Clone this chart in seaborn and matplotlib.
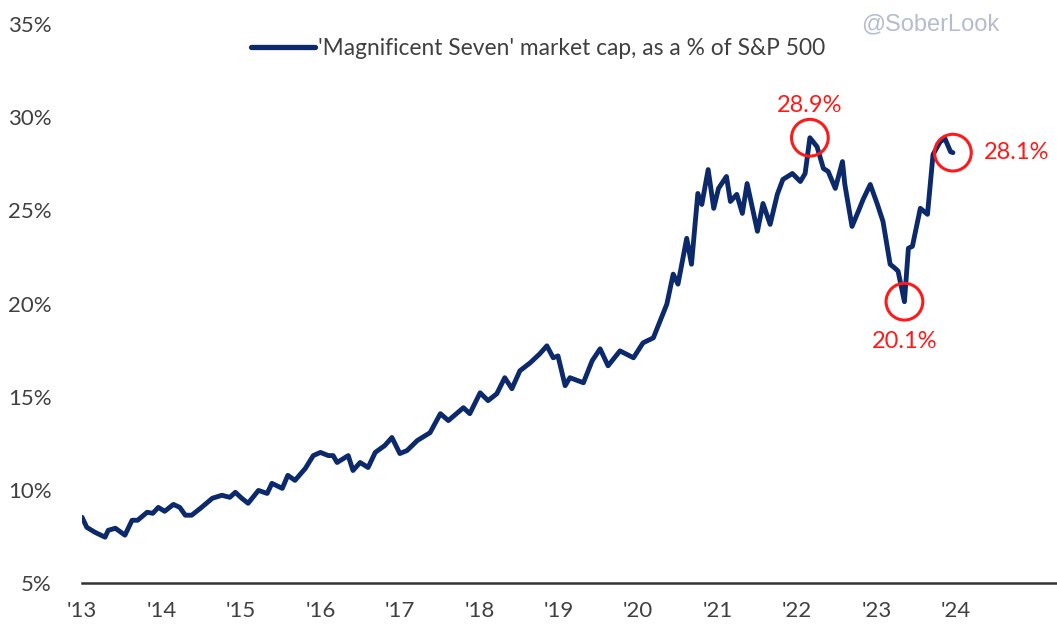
import matplotlib.pyplot as plt
import pandas as pd
import seaborn as sns

# Decimal year and share of S&P 500 market cap (%)
years = [
    2013.00, 2013.06, 2013.16, 2013.29, 2013.33, 2013.42, 2013.54, 2013.63, 2013.70, 2013.82,
    2013.89, 2013.96, 2014.04, 2014.15, 2014.23, 2014.30, 2014.38, 2014.49, 2014.64, 2014.76,
    2014.86, 2014.93, 2015.01, 2015.09, 2015.22, 2015.33, 2015.39, 2015.52, 2015.59, 2015.68,
    2015.81, 2015.91, 2016.00, 2016.10, 2016.16, 2016.21, 2016.35, 2016.41, 2016.50, 2016.60,
    2016.69, 2016.81, 2016.90, 2017.00, 2017.09, 2017.22, 2017.38, 2017.51, 2017.61, 2017.80,
    2017.88, 2018.01, 2018.11, 2018.22, 2018.32, 2018.41, 2018.51, 2018.64, 2018.76, 2018.85,
    2018.93, 2018.99, 2019.08, 2019.14, 2019.31, 2019.42, 2019.52, 2019.62, 2019.77, 2019.94,
    2020.06, 2020.19, 2020.36, 2020.44, 2020.50, 2020.61, 2020.67, 2020.75, 2020.80, 2020.88,
    2020.95, 2021.01, 2021.11, 2021.16, 2021.24, 2021.31, 2021.37, 2021.50, 2021.57, 2021.66,
    2021.75, 2021.82, 2021.94, 2022.04, 2022.10, 2022.16, 2022.25, 2022.33, 2022.39, 2022.48,
    2022.57, 2022.60, 2022.69, 2022.77, 2022.83, 2022.92, 2023.01, 2023.08, 2023.17, 2023.23,
    2023.27, 2023.35, 2023.40, 2023.45, 2023.55, 2023.64, 2023.71, 2023.80, 2023.86, 2023.93,
    2023.96,
]
share = [
    8.53, 7.99, 7.73, 7.46, 7.83, 7.94, 7.57, 8.37, 8.37, 8.80,
    8.74, 9.06, 8.85, 9.22, 9.06, 8.64, 8.64, 9.01, 9.55, 9.71,
    9.60, 9.87, 9.55, 9.28, 9.97, 9.81, 10.35, 10.08, 10.78, 10.51,
    11.15, 11.84, 12.01, 11.84, 11.84, 11.47, 11.84, 11.04, 11.47, 11.20,
    12.01, 12.38, 12.81, 11.95, 12.11, 12.65, 13.07, 14.09, 13.72, 14.41,
    14.09, 15.21, 14.79, 15.16, 16.02, 15.43, 16.39, 16.82, 17.30, 17.73,
    17.09, 17.19, 15.59, 16.02, 15.75, 16.93, 17.57, 16.66, 17.46, 17.09,
    17.89, 18.16, 19.97, 21.58, 21.04, 23.50, 22.11, 25.91, 25.32, 27.19,
    25.11, 26.18, 26.82, 25.48, 25.86, 24.84, 26.44, 23.88, 25.37, 24.25,
    25.86, 26.66, 26.98, 26.55, 26.98, 28.90, 28.42, 27.25, 27.09, 26.18,
    27.62, 26.39, 24.14, 24.95, 25.59, 26.39, 25.32, 24.41, 22.11, 21.90,
    21.74, 20.10, 22.97, 23.07, 25.11, 24.79, 28.00, 28.69, 28.85, 28.15,
    28.10,
]

# Highlighted points: peak, trough, latest
mark_years = [2022.16, 2023.35, 2023.96]
mark_share = [28.9, 20.1, 28.1]
mark_labels = ["28.9%", "20.1%", "28.1%"]

tick_years = list(range(2013, 2025))
tick_labels = ["'" + str(y)[2:] for y in tick_years]
y_ticks = [5, 10, 15, 20, 25, 30, 35]

navy = "#0c2a6b"
red = "#ff1a1a"
grey = "#404040"

sns.set_style("white")
plt.rcParams["font.family"] = ["Liberation Sans Narrow", "Lato", "DejaVu Sans"]

df = pd.DataFrame({"year": years, "share": share})

fig = plt.figure(figsize=(10.57, 6.34), dpi=100)
ax = fig.add_axes([0.0776, 0.0804, 0.9224, 0.8816])

sns.lineplot(
    data=df, x="year", y="share", ax=ax, color=navy, linewidth=3.5,
    label="'Magnificent Seven' market cap, as a % of S&P 500",
)

ax.scatter(mark_years, mark_share, s=700, facecolors="none", edgecolors=red,
           linewidths=2.2, zorder=5)
offsets = [(0, 16, "center", "bottom"), (0, -21, "center", "top"), (22, 0, "left", "center")]
for x, y, lab, (dx, dy, ha, va) in zip(mark_years, mark_share, mark_labels, offsets):
    ax.annotate(lab, (x, y), xytext=(dx, dy), textcoords="offset points",
                ha=ha, va=va, color=red, fontsize=17)

ax.set_xlim(2013, 2025.27)
ax.set_ylim(5, 35)
ax.set_xticks(tick_years)
ax.set_xticklabels(tick_labels)
ax.set_yticks(y_ticks)
ax.set_yticklabels([f"{v}%" for v in y_ticks])
ax.tick_params(axis="both", length=0, labelsize=16, labelcolor=grey)
ax.tick_params(axis="x", pad=13)
ax.tick_params(axis="y", pad=22)
ax.set_xlabel("")
ax.set_ylabel("")

for side in ["left", "right", "top"]:
    ax.spines[side].set_visible(False)
ax.spines["bottom"].set_color("#333333")
ax.spines["bottom"].set_linewidth(1.8)

leg = ax.legend(loc="center", bbox_to_anchor=(0.468, 0.957), frameon=False,
                fontsize=16.4, handlelength=2.8, handletextpad=0.15)
for t in leg.get_texts():
    t.set_color(grey)
leg.get_lines()[0].set_linewidth(3.8)

fig.text(0.88, 0.962, "@SoberLook", color="#b4bccf", fontsize=17,
         ha="center", va="center", family=["Liberation Sans", "DejaVu Sans"])

plt.savefig("out.png", dpi=100)
plt.close()
